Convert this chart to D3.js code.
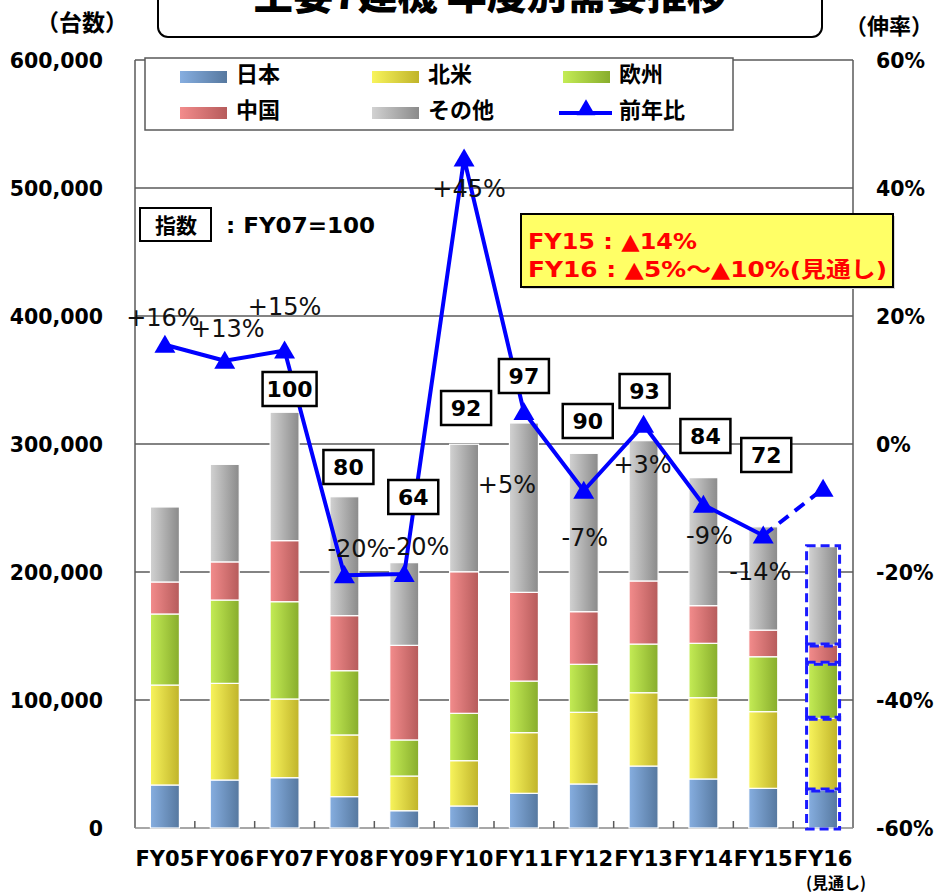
<!DOCTYPE html>
<html><head><meta charset="utf-8">
<script src="https://cdn.jsdelivr.net/npm/d3@7"></script>
<style>
body{margin:0;background:#fff;}
svg{display:block;}
</style></head>
<body>
<svg id="c" width="937" height="896"></svg>
<script>
// ---------- data ----------
const categories = ["FY05","FY06","FY07","FY08","FY09","FY10","FY11","FY12","FY13","FY14","FY15","FY16"];
const seriesNames = ["日本","北米","欧州","中国","その他"];
const japan  = [33600, 37500, 39300, 24500, 13500, 17200, 27100, 34400, 48400, 38300, 31000, 29700];
const northAmerica = [78100, 75500, 61500, 48200, 27100, 35400, 47400, 56000, 57300, 63500, 59900, 56000];
const europe = [55500, 65100, 76000, 50200, 28200, 37000, 40300, 37500, 38000, 42500, 42900, 43000];
const china  = [25000, 29800, 47700, 43000, 73900, 110600, 69300, 41100, 49300, 29400, 20800, 14300];
const others = [58600, 76200, 100300, 92900, 64600, 99600, 132300, 123700, 109600, 100000, 80700, 76800];
const yoyRatio = [15.5, 13.0, 14.6, -20.5, -20.3, 44.6, 5.0, -7.3, 3.0, -9.5, -14.3, -7.0];
const yoyLabels = ["+16%","+13%","+15%","-20%","-20%","+45%","+5%","-7%","+3%","-9%","-14%",null];
const indexValues = [null, null, 100, 80, 64, 92, 97, 90, 93, 84, 72, null];
const leftTicks = [0, 100000, 200000, 300000, 400000, 500000, 600000];
const rightTicks = [-60, -40, -20, 0, 20, 40, 60];

// ---------- layout (label placement, px) ----------
const yoyLabelPos = [[-2,317],[3,328],[0,306],[14,548],[14,546],[5,188],[-17,484],[1,537],[-1,464],[6,535],[-3,571]];
const indexLabelPos = [null,null,[5,389],[4,467],[9,497],[2,408],[0,376],[4,421],[1,391],[2,436],[3,455],null];

const svg = d3.select("#c");
const L = 135, R = 853, T = 60, B = 828;
const x = d3.scaleBand().domain(categories).range([L, R]).padding(0);
const y = d3.scaleLinear().domain([0, 600000]).range([B, T]);
const yR = d3.scaleLinear().domain([-60, 60]).range([B, T]);
const barW = 29;

const colors = [
  ["#86aee0","#56789f"],
  ["#f8f45c","#c0b42a"],
  ["#c4ec55","#88ad2c"],
  ["#f38c8c","#b65b5b"],
  ["#d2d2d2","#8a8a8a"]
];
const defs = svg.append("defs");
colors.forEach((c,i)=>{
  const g = defs.append("linearGradient").attr("id","g"+i).attr("x1",0).attr("x2",1).attr("y1",0).attr("y2",0);
  g.append("stop").attr("offset","0%").attr("stop-color",c[0]);
  g.append("stop").attr("offset","100%").attr("stop-color",c[1]);
});

const FONT = "'DejaVu Sans','Noto Sans CJK JP',sans-serif";
const JFONT = "'Noto Sans CJK JP','DejaVu Sans',sans-serif";

// ---------- title box ----------
svg.append("rect").attr("x",158).attr("y",-20).attr("width",664).attr("height",57).attr("rx",10)
  .attr("fill","#fff").attr("stroke","#000").attr("stroke-width",2);
svg.append("text").attr("x",490).attr("y",9).attr("text-anchor","middle")
  .attr("font-family",JFONT).attr("font-weight","900").attr("font-size",40).attr("fill","#000")
  .text("主要7建機 年度別需要推移");
svg.append("text").attr("x",82).attr("y",31).attr("text-anchor","middle")
  .attr("font-family",JFONT).attr("font-weight","bold").attr("font-size",23).text("（台数）");
svg.append("text").attr("x",889).attr("y",34).attr("text-anchor","middle")
  .attr("font-family",JFONT).attr("font-weight","bold").attr("font-size",22).text("（伸率）");

// ---------- grid ----------
svg.append("g").selectAll("line").data(leftTicks.filter(d=>d>0)).join("line")
  .attr("x1",L).attr("x2",R).attr("y1",d=>y(d)).attr("y2",d=>y(d))
  .attr("stroke","#5a5a5a").attr("stroke-width",1.5);
svg.append("line").attr("x1",L).attr("x2",L).attr("y1",T).attr("y2",B).attr("stroke","#5a5a5a").attr("stroke-width",1.5);
svg.append("line").attr("x1",R).attr("x2",R).attr("y1",T).attr("y2",B).attr("stroke","#5a5a5a").attr("stroke-width",1.5);
svg.append("line").attr("x1",L).attr("x2",R).attr("y1",B).attr("y2",B).attr("stroke","#8a8a8a").attr("stroke-width",1.5);
svg.append("g").selectAll("line").data(categories.slice(1)).join("line")
  .attr("x1",d=>x(d)).attr("x2",d=>x(d)).attr("y1",B).attr("y2",B-7)
  .attr("stroke","#5a5a5a").attr("stroke-width",1.5);

// ---------- axes labels ----------
const yAxis = d3.axisLeft(y).tickValues(leftTicks).tickSize(0).tickPadding(0).tickFormat(d3.format(","));
const ga = svg.append("g").attr("transform",`translate(103,0)`).call(yAxis);
ga.select(".domain").remove();
ga.selectAll("text").attr("font-family",FONT).attr("font-weight","bold").attr("font-size",20.5).attr("fill","#000").attr("dy","0.36em");
const yAxisR = d3.axisRight(yR).tickValues(rightTicks).tickSize(0).tickPadding(0).tickFormat(d=>d+"%");
const gr = svg.append("g").attr("transform",`translate(876,0)`).call(yAxisR);
gr.select(".domain").remove();
gr.selectAll("text").attr("font-family",FONT).attr("font-weight","bold").attr("font-size",20.5).attr("fill","#000").attr("dy","0.36em");
const xAxis = d3.axisBottom(x).tickSize(0).tickPadding(0);
const gx = svg.append("g").attr("transform",`translate(0,851)`).call(xAxis);
gx.select(".domain").remove();
gx.selectAll("text").attr("font-family",FONT).attr("font-weight","bold").attr("font-size",21).attr("fill","#000").attr("dy","0.71em");
svg.append("text").attr("x",836).attr("y",889).attr("text-anchor","middle")
  .attr("font-family",JFONT).attr("font-weight","bold").attr("font-size",16).text("(見通し)");

// ---------- bars ----------
const table = categories.map((c,i)=>({cat:c, "日本":japan[i], "北米":northAmerica[i], "欧州":europe[i], "中国":china[i], "その他":others[i]}));
const stack = d3.stack().keys(seriesNames)(table);
const gb = svg.append("g");
stack.forEach((s,si)=>{
  gb.append("g").selectAll("rect").data(s).join("rect")
    .attr("x",d=>x(d.data.cat)+x.bandwidth()/2-barW/2)
    .attr("width",barW)
    .attr("y",d=>y(d[1]))
    .attr("height",d=>y(d[0])-y(d[1]))
    .attr("fill",`url(#g${si})`)
    .attr("stroke","#fff").attr("stroke-width",1.2);
});
// FY16 forecast dashed outlines
const lastIdx = categories.length-1;
const gd = svg.append("g");
stack.forEach((s)=>{
  const d = s[lastIdx];
  gd.append("rect")
    .attr("x",x(categories[lastIdx])+x.bandwidth()/2-barW/2-2)
    .attr("width",barW+4)
    .attr("y",y(d[1])-1)
    .attr("height",y(d[0])-y(d[1])+2)
    .attr("fill","none").attr("stroke","#1a1aff").attr("stroke-width",3)
    .attr("stroke-dasharray","9,5");
});

// ---------- legend ----------
svg.append("rect").attr("x",145).attr("y",58).attr("width",588).attr("height",72)
  .attr("fill","#fff").attr("stroke","#5a5a5a").attr("stroke-width",1.5);
const legItems = [
  {name:"日本",i:0,x:180,y:74},{name:"北米",i:1,x:372,y:74},{name:"欧州",i:2,x:563,y:74},
  {name:"中国",i:3,x:180,y:110},{name:"その他",i:4,x:372,y:110}
];
legItems.forEach(it=>{
  svg.append("rect").attr("x",it.x).attr("y",it.y-3).attr("width",47).attr("height",12).attr("fill",`url(#g${it.i})`);
  svg.append("text").attr("x",it.x+56).attr("y",it.y).attr("dy","0.36em")
    .attr("font-family",JFONT).attr("font-weight","bold").attr("font-size",22).text(it.name);
});
svg.append("line").attr("x1",559).attr("x2",612).attr("y1",113).attr("y2",113).attr("stroke","#0000ff").attr("stroke-width",4);
svg.append("path").attr("d",d3.symbol(d3.symbolTriangle,150)()).attr("transform","translate(586,110)").attr("fill","#0000ff");
svg.append("text").attr("x",619).attr("y",110).attr("dy","0.36em")
  .attr("font-family",JFONT).attr("font-weight","bold").attr("font-size",22).text("前年比");

// ---------- 指数 note ----------
svg.append("rect").attr("x",140).attr("y",208).attr("width",71).attr("height",33).attr("fill","#fff").attr("stroke","#000").attr("stroke-width",2);
svg.append("text").attr("x",176).attr("y",225).attr("dy","0.36em").attr("text-anchor","middle")
  .attr("font-family",JFONT).attr("font-weight","bold").attr("font-size",21).text("指数");
svg.append("text").attr("x",226).attr("y",225).attr("dy","0.36em")
  .attr("font-family",FONT).attr("font-weight","bold").attr("font-size",22).attr("textLength",149).attr("lengthAdjust","spacingAndGlyphs")
  .text(": FY07=100");

// ---------- yellow note ----------
svg.append("rect").attr("x",523).attr("y",216).attr("width",372).attr("height",73).attr("fill","#d8d8d8");
svg.append("rect").attr("x",521).attr("y",214).attr("width",372).attr("height",73)
  .attr("fill","#ffff66").attr("stroke","#000").attr("stroke-width",2);
svg.append("text").attr("x",528).attr("y",249).attr("font-family",FONT).attr("font-weight","bold").attr("font-size",22).attr("fill","#ff0000")
  .attr("textLength",169).attr("lengthAdjust","spacingAndGlyphs")
  .text("FY15 : ▲14%");
svg.append("text").attr("x",528).attr("y",277).attr("font-family",FONT).attr("font-weight","bold").attr("font-size",22).attr("fill","#ff0000")
  .attr("textLength",359).attr("lengthAdjust","spacingAndGlyphs")
  .text("FY16 : ▲5%～▲10%(見通し)");

// ---------- YoY line ----------
const cx = i => x(categories[i])+x.bandwidth()/2;
const pts = yoyRatio.map((v,i)=>[cx(i), yR(v)]);
const line = d3.line();
svg.append("path").attr("d",line(pts.slice(0,lastIdx))).attr("fill","none")
  .attr("stroke","#0000ff").attr("stroke-width",4).attr("stroke-linejoin","round");
svg.append("path").attr("d",line(pts.slice(lastIdx-1))).attr("fill","none")
  .attr("stroke","#0000ff").attr("stroke-width",4).attr("stroke-dasharray","12,8");
svg.append("g").selectAll("path").data(pts).join("path")
  .attr("d",d3.symbol(d3.symbolTriangle,190)())
  .attr("transform",d=>`translate(${d[0]},${d[1]+2})`).attr("fill","#0000ff");

// ---------- YoY labels ----------
yoyLabels.forEach((t,i)=>{
  if(!t) return;
  const p = yoyLabelPos[i];
  svg.append("text").attr("x",cx(i)+p[0]).attr("y",p[1]).attr("dy","0.36em").attr("text-anchor","middle")
    .attr("font-family",FONT).attr("font-size",24).attr("fill","#111").text(t);
});

// ---------- index boxes ----------
indexValues.forEach((v,i)=>{
  if(v==null) return;
  const p = indexLabelPos[i];
  const w = String(v).length>2 ? 54 : 50;
  const bx = cx(i)+p[0];
  svg.append("rect").attr("x",bx-w/2).attr("y",p[1]-17).attr("width",w).attr("height",34)
    .attr("fill","#fff").attr("stroke","#000").attr("stroke-width",2.5);
  svg.append("text").attr("x",bx).attr("y",p[1]).attr("dy","0.36em").attr("text-anchor","middle")
    .attr("font-family",FONT).attr("font-weight","bold").attr("font-size",22).text(v);
});
</script>
</body></html>
